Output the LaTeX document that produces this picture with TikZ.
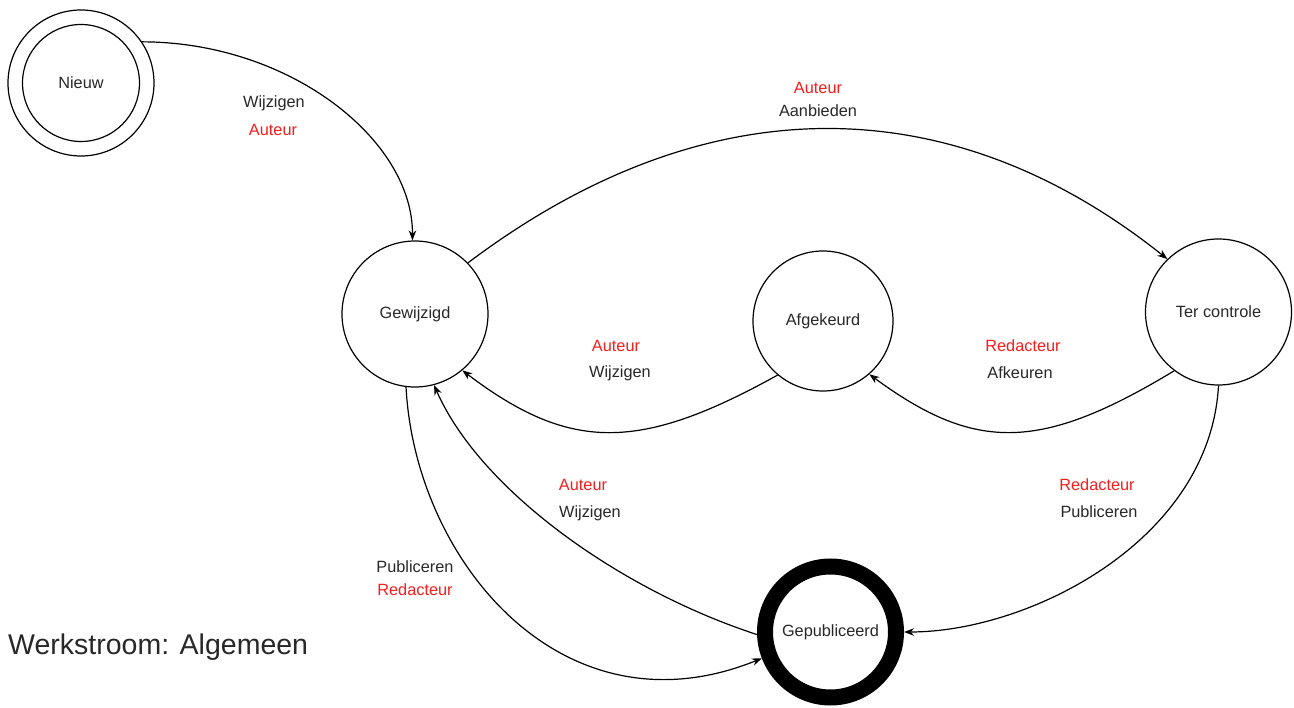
\documentclass[tikz,border=0pt]{standalone}
\usepackage{fontspec}
\setmainfont{Liberation Sans}
\usetikzlibrary{arrows.meta}
\definecolor{lblred}{RGB}{245,30,30}
\definecolor{txt}{RGB}{40,40,40}
\begin{document}
\begin{tikzpicture}[x=1pt,y=-1pt,
  state/.style={circle,draw,line width=1.2pt,minimum size=146pt,inner sep=0pt,
    font=\fontsize{16.3}{19}\selectfont,text=txt},
  conn/.style={line width=1.2pt,-{Stealth[length=10pt,width=7.5pt]}},
  lab/.style={font=\fontsize{16.3}{19}\selectfont,text=txt,inner sep=0pt},
  rlab/.style={lab,text=lblred}]
\useasboundingbox[fill=white] (0,0) rectangle (1294,708);
% states
\node[state] (nieuw) at (81,83) {Nieuw};
\draw[line width=1.2pt] (nieuw.center) circle (58.5);
\node[state] (gew) at (415,314) {Gewijzigd};
\node[state,minimum size=140pt] (afg) at (823,321) {Afgekeurd};
\node[state] (ter) at (1218.5,312) {Ter controle};
\node[state,line width=16pt,minimum size=131pt] (pub) at (830.5,632) {Gepubliceerd};
% connectors
\draw[conn] (nieuw.34) .. controls (290,42) and (413,140) .. (gew.92);
\draw[conn] (gew.44) .. controls (704,85) and (949,85) .. (ter.134);
\draw[conn] (afg.230) .. controls (639,452) and (570,452) .. (gew.-50);
\draw[conn] (ter.233) .. controls (1040,452) and (975,452) .. (afg.-49);
\draw[conn] (gew.-97) .. controls (415,560) and (562,739) .. (pub.201);
\draw[conn] (pub.182) .. controls (620,590) and (480,490) .. (gew.-75);
\draw[conn] (ter.-90) .. controls (1210,540) and (1030,632) .. (pub.0);
% labels
\node[lab] (l1a) at (274,103) {Wijzigen};
\node[rlab] (l1b) at (273,130) {Auteur};
\node[rlab] (l2a) at (818,88) {Auteur};
\node[lab] (l2b) at (818,111) {Aanbieden};
\node[rlab] (l3a) at (616,346) {Auteur};
\node[lab] (l3b) at (620,373) {Wijzigen};
\node[rlab] (l4a) at (1023,346) {Redacteur};
\node[lab] (l4b) at (1020,373) {Afkeuren};
\node[rlab] (l5a) at (583,485) {Auteur};
\node[lab] (l5b) at (590,513) {Wijzigen};
\node[lab] (l6a) at (415,567) {Publiceren};
\node[rlab] (l6b) at (415,590) {Redacteur};
\node[rlab] (l7a) at (1097,485) {Redacteur};
\node[lab] (l7b) at (1099,512) {Publiceren};
\node[lab,anchor=west,font=\fontsize{28.5}{33}\selectfont] (title) at (8,647) {Werkstroom: Algemeen};
\end{tikzpicture}
\end{document}
